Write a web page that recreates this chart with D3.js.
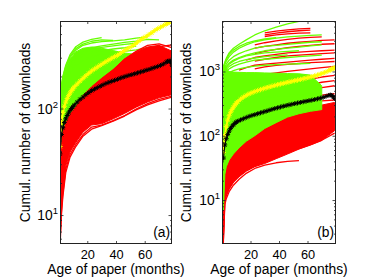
<!DOCTYPE html>
<html><head><meta charset="utf-8">
<script src="https://cdn.jsdelivr.net/npm/d3@7"></script>
<style>
body{margin:0;background:#fff}
svg{display:block}
text{font-family:"Liberation Sans",Arial,Helvetica,sans-serif;fill:#000}
</style>
</head><body>
<svg id="c" width="370" height="278"></svg>
<script>
// ---------- DATA ----------
const xTicks = [20, 40, 60];
const yMajorA = [10, 100];
const yMajorB = [10, 100, 1000];
const xLabel = "Age of paper (months)";
const yLabel = "Cumul. number of downloads";

// common age grid for bands and individual lines (months)
const ageGrid = [1, 2, 3, 5, 8, 12, 17, 23, 30, 38, 46, 54, 62, 70, 79];
// ages at which the averaged curves (asterisk markers) are plotted
const meanAges = [1,2,3,4,5,6,7,8,9,10,11,13,15,17,19,21,23,25,27,29,31,33,35,37,39,41,43,45,47,49,51,53,55,57,59,61,63,65,67,69,71,73,75,76,77,78,79];

// ----- panel (a) -----
const greenA_low = [10, 14, 22, 40, 60, 80, 100, 118, 135, 150, 165, 180, 195, 210];
const greenA_up  = [120, 155, 185, 235, 290, 340, 368, 378, 368, 350, 332, 322, 312, 280];
const greenA_lines = [
  [125, 165, 200, 255, 320, 380, 420, 445, 462],
  [122, 162, 196, 248, 310, 365, 402, 428, 440, 435],
  [120, 158, 192, 242, 300, 352, 392, 412, 425, 432, 440, 458, 470],
  [112, 142, 172, 215, 266, 312, 346, 372, 388, 402, 418, 430, 445, 440],
  [106, 138, 166, 208, 256, 300, 336, 360, 375, 388, 400, 410],
  [102, 132, 160, 200, 246, 286, 316, 336, 350, 362, 372, 385],
  [92, 120, 146, 182, 222, 256, 286, 306, 322, 332, 344, 356, 372, 385],
  [40, 62, 78, 98, 124, 150, 175, 196, 214, 230, 246, 260, 272]
];
const redA_low = [5, 12, 17, 29, 39, 48, 60, 70, 72, 80, 90, 103, 115, 126, 135];
const redA_up  = [10, 50, 60, 72, 88, 103, 132, 160, 192, 232, 292, 342, 378, 392, 345];
const redA_lines = [
  [9, 42, 56, 70, 86, 102, 128, 156, 186, 228, 290, 345, 392, 405, 372],
  [8, 38, 52, 66, 82, 98, 124, 150, 180, 222, 280, 330, 365, 380, 395],
  [6, 11, 16, 27, 37, 46, 57, 67, 70, 77, 86, 99, 111, 122, 131],
  [5, 10, 15, 25, 35, 44, 55, 64, 69, 76, 85, 97, 108, 118, 128]
];
const meanA_black = [37.5,57,66,74,80,86,91,96,100,104,108,115,122,128,135,141,147,152,157,162,167,172,176,180,184,188,193,197,201,205,208,212,216,220,224,229,233,238,243,248,254,262,272,278,280,272,255];
const meanA_yellow = [44,75,92,105,115,124,132,140,147,153,160,170,181,192,203,214,225,235,245,255,265,275,285,296,306,316,330,345,358,370,385,400,420,440,460,475,495,515,540,560,580,600,620,635,645,655,660];

// ----- panel (b) -----
const redB_low = [2, 9, 11.5, 15, 19, 23, 28, 33, 37, 44, 52, 62, 72, 85, 120];
const redB_up  = [8, 30, 38, 48, 60, 75, 95, 112, 148, 180, 222, 245, 268, 300, 330];
const redB_lines = [
  [null, null, null, null, null, null, null, null, 4000, 4250, 4450, 4600, 4700],
  [null, null, null, null, null, null, null, null, 3700, 3950, 4150, 4300, 4400],
  [null, null, null, null, null, null, null, null, 3500, 3700, 3850, 3950, 4000],
  [null, null, null, null, null, null, null, 2600, 2800, 3000, 3150, 3300, 3400, 3450],
  [null, null, null, null, null, null, null, 2300, 2450, 2600, 2750, 2850, 2950, 3050, 3100],
  [null, null, null, null, null, null, null, 1900, 2050, 2200, 2350, 2450, 2550, 2650, 2700],
  [null, null, null, null, null, null, 1500, 1650, 1750, 1850, 1950, 2000, 2050, 2100, 2150],
  [null, null, null, null, null, null, null, 1450, 1550, 1650, 1750, 1800, 1850, 1900, 1950],
  [null, null, null, null, null, 1050, 1150, 1250, 1300, 1350, 1400, 1450, 1500, 1550, 1600],
  [null, null, null, null, null, null, null, 1100, 1180, 1240, 1290, 1330, 1370, 1400, 1430],
  [null, null, null, null, null, null, null, null, 900, 950, 1000, 1050, 1100, 1150, 1200],
  [null, null, null, null, null, null, null, null, null, null, 650, 700, 760, 820, 870],
  [null, null, null, null, null, null, null, null, null, null, null, 560, 620, 680, 720],
  [null, null, null, null, null, null, null, null, null, null, null, 480, 520, 560, 600],
  [null, null, null, null, null, null, null, null, null, null, null, null, 330, 350, 360],
  [null, null, null, null, null, null, null, null, null, null, null, null, 400, 430, 450],
  [2.5, 8.5, 10.5, 13.5, 17, 21, 26, 31, 35, 38, 40, 41],
  [3, 10, 12, 15, 19, 24, 29, 34, 40, 47, 55, 63, 72, 85, 110]
];
const greenB_low = [7, 25, 33, 42, 52, 65, 82, 100, 130, 160, 195, 220, 240, 255];
const greenB_up  = [1250, 1200, 1100, 1000, 980, 970, 960, 960, 950, 940, 930, 920, 880, 600];
const greenB_lines = [
  [1200, 1400, 1600, 1950, 2300, 2650, 3100, 3700, 4300, 4900, 5500, 6000, 6500],
  [1150, 1350, 1550, 1850, 2150, 2450, 2750, 3000, 3200, 3350],
  [1100, 1300, 1450, 1700, 2000, 2300, 2600, 2900, 3100, 3300, 3450, 3550, 3650, 3700],
  [1000, 1150, 1300, 1500, 1700, 1900, 2100, 2300, 2450, 2550, 2650, 2750, 2850, 2900],
  [900, 1050, 1150, 1300, 1450, 1600, 1750, 1850, 1950, 2000, 2050, 2100],
  [950, 1100, 1200, 1350, 1500, 1650, 1800, 1950, 2100, 2200, 2300, 2400, 2500, 2600],
  [850, 980, 1080, 1200, 1320, 1430, 1530, 1620, 1700, 1760, 1810],
  [800, 900, 1000, 1100, 1200, 1300, 1400, 1500, 1550, 1600, 1650, 1700, 1750, 1800],
  [700, 800, 880, 960, 1030, 1100, 1160, 1210, 1250, 1280, 1300, 1320, 1340],
  [120, 160, 200, 250, 300, 340, 370, 390, 400, 410, 420, 430, 440, 450]
];
const meanB_black = [45,72,90,105,118,130,140,148,156,163,168,176,184,192,200,207,213,220,227,234,241,249,257,265,272,280,288,295,302,309,316,323,330,337,344,351,358,366,375,385,396,410,425,430,425,405,380];
const meanB_yellow = [55,100,140,175,205,232,255,278,300,320,338,370,400,425,448,468,487,505,522,540,557,573,590,606,622,638,654,670,686,702,718,735,752,770,790,810,830,855,880,910,945,985,1030,1060,1090,1120,1140];

// ---------- DRAWING ----------
const svg = d3.select('#c');
const RED = '#ff0000', GREEN = '#66ff00', YELLOW = '#ffff00', BLACK = '#000000';
const FS = 13.8, TFS = 12.8;
const TOP = 21, BOTTOM = 244;

function starPath(cx, cy, r) {
  const q = r * 0.72;
  return `M${cx-r},${cy}L${cx+r},${cy}M${cx},${cy-r}L${cx},${cy+r}` +
         `M${cx-q},${cy-q}L${cx+q},${cy+q}M${cx-q},${cy+q}L${cx+q},${cy-q}`;
}

function drawPanel(cfg) {
  const x = d3.scaleLinear().domain(cfg.xDomain).range([cfg.left, cfg.right]);
  const y = d3.scaleLog().domain(cfg.yDomain).range([BOTTOM, TOP]);
  const clipId = 'clip-' + cfg.name;
  svg.append('clipPath').attr('id', clipId).append('rect')
    .attr('x', cfg.left).attr('y', TOP).attr('width', cfg.right - cfg.left).attr('height', BOTTOM - TOP);
  const plot = svg.append('g').attr('clip-path', `url(#${clipId})`);

  const area = d3.area().x(d => x(d[0])).y0(d => y(d[1])).y1(d => y(d[2]));
  const line = d3.line().defined(d => d[1] != null).x(d => x(d[0])).y(d => y(d[1]));

  cfg.layers.forEach(L => {
    if (L.type === 'band') {
      const pts = L.low.map((v, i) => [ageGrid[i], v, L.up[i]]);
      plot.append('path').attr('d', area(pts)).attr('fill', L.color)
        .attr('stroke', L.color).attr('stroke-width', 1);
    } else if (L.type === 'lines') {
      L.series.forEach(s => {
        const pts = s.map((v, i) => [ageGrid[i], v]);
        plot.append('path').attr('d', line(pts)).attr('fill', 'none')
          .attr('stroke', L.color).attr('stroke-width', 1.3).attr('stroke-linejoin', 'round');
      });
    } else if (L.type === 'mean') {
      const pts = L.values.map((v, i) => [meanAges[i], v]);
      plot.append('path').attr('d', line(pts)).attr('fill', 'none')
        .attr('stroke', L.color).attr('stroke-width', L.lw);
      plot.append('path').attr('d', pts.map(p => starPath(x(p[0]), y(p[1]), L.r)).join(''))
        .attr('fill', 'none').attr('stroke', L.color).attr('stroke-width', 1);
    }
  });

  // axes (ticks inside, boxed plot)
  const ax = svg.append('g');
  const minor = [];
  const [y0, y1] = cfg.yDomain;
  for (let e = Math.floor(Math.log10(y0)); e <= Math.ceil(Math.log10(y1)); e++) {
    for (let k = 2; k <= 9; k++) { const v = k * Math.pow(10, e); if (v > y0 && v < y1) minor.push(v); }
  }
  const tickStyle = g => { g.select('.domain').remove(); g.selectAll('line').attr('stroke', '#222').attr('stroke-width', 0.8); };
  ax.append('g').attr('transform', `translate(0,${BOTTOM})`)
    .call(d3.axisBottom(x).tickValues(xTicks).tickSize(-3).tickPadding(6).tickFormat(d3.format('d')))
    .call(tickStyle).call(g => g.selectAll('text').attr('font-size', TFS).attr('font-family', null));
  ax.append('g').attr('transform', `translate(0,${TOP})`)
    .call(d3.axisTop(x).tickValues(xTicks).tickSize(-3).tickFormat(() => '')).call(tickStyle);
  ax.append('g').attr('transform', `translate(${cfg.left},0)`)
    .call(d3.axisLeft(y).tickValues(cfg.yMajor).tickSize(-3.5).tickFormat(() => '')).call(tickStyle);
  ax.append('g').attr('transform', `translate(${cfg.right},0)`)
    .call(d3.axisRight(y).tickValues(cfg.yMajor).tickSize(-3.5).tickFormat(() => '')).call(tickStyle);
  ax.append('g').attr('transform', `translate(${cfg.left},0)`)
    .call(d3.axisLeft(y).tickValues(minor).tickSize(-2).tickFormat(() => '')).call(tickStyle);
  ax.append('g').attr('transform', `translate(${cfg.right},0)`)
    .call(d3.axisRight(y).tickValues(minor).tickSize(-2).tickFormat(() => '')).call(tickStyle);

  // y tick labels as 10^n
  cfg.yMajor.forEach(v => {
    const t = ax.append('text').attr('x', cfg.left - 2).attr('y', y(v) + 5)
      .attr('text-anchor', 'end').attr('font-size', FS);
    t.append('tspan').text('10');
    t.append('tspan').attr('dy', -6).attr('font-size', 9.5).text(String(Math.round(Math.log10(v))));
  });

  // box
  svg.append('rect').attr('x', cfg.left + 0.5).attr('y', TOP + 0.5)
    .attr('width', cfg.right - cfg.left - 1).attr('height', BOTTOM - TOP - 1)
    .attr('fill', 'none').attr('stroke', '#222').attr('stroke-width', 1);

  // axis labels
  svg.append('text').attr('x', (cfg.left + cfg.right) / 2).attr('y', 274)
    .attr('text-anchor', 'middle').attr('font-size', FS).text(xLabel);
  svg.append('text').attr('transform', `translate(${cfg.yLabelX},${(TOP + BOTTOM) / 2}) rotate(-90)`)
    .attr('text-anchor', 'middle').attr('font-size', FS).text(yLabel);
  // panel tag
  svg.append('text').attr('x', cfg.right - 2).attr('y', 237)
    .attr('text-anchor', 'end').attr('font-size', FS).text(cfg.tag);
}

drawPanel({
  name: 'a', tag: '(a)', left: 60, right: 172, xDomain: [1, 79], yDomain: [5.35, 663],
  yMajor: yMajorA, yLabelX: 30,
  layers: [
    { type: 'band', low: greenA_low, up: greenA_up, color: GREEN },
    { type: 'lines', series: greenA_lines, color: GREEN },
    { type: 'band', low: redA_low, up: redA_up, color: RED },
    { type: 'lines', series: redA_lines, color: RED },
    { type: 'mean', values: meanA_yellow, color: YELLOW, lw: 2, r: 2.6 },
    { type: 'mean', values: meanA_black, color: BLACK, lw: 1.2, r: 2.4 }
  ]
});

drawPanel({
  name: 'b', tag: '(b)', left: 222, right: 336, xDomain: [0, 80], yDomain: [2.07, 6100],
  yMajor: yMajorB, yLabelX: 191,
  layers: [
    { type: 'band', low: redB_low, up: redB_up, color: RED },
    { type: 'lines', series: redB_lines, color: RED },
    { type: 'band', low: greenB_low, up: greenB_up, color: GREEN },
    { type: 'lines', series: greenB_lines, color: GREEN },
    { type: 'mean', values: meanB_yellow, color: YELLOW, lw: 2, r: 2.6 },
    { type: 'mean', values: meanB_black, color: BLACK, lw: 1.2, r: 2.4 }
  ]
});
</script>
</body></html>
